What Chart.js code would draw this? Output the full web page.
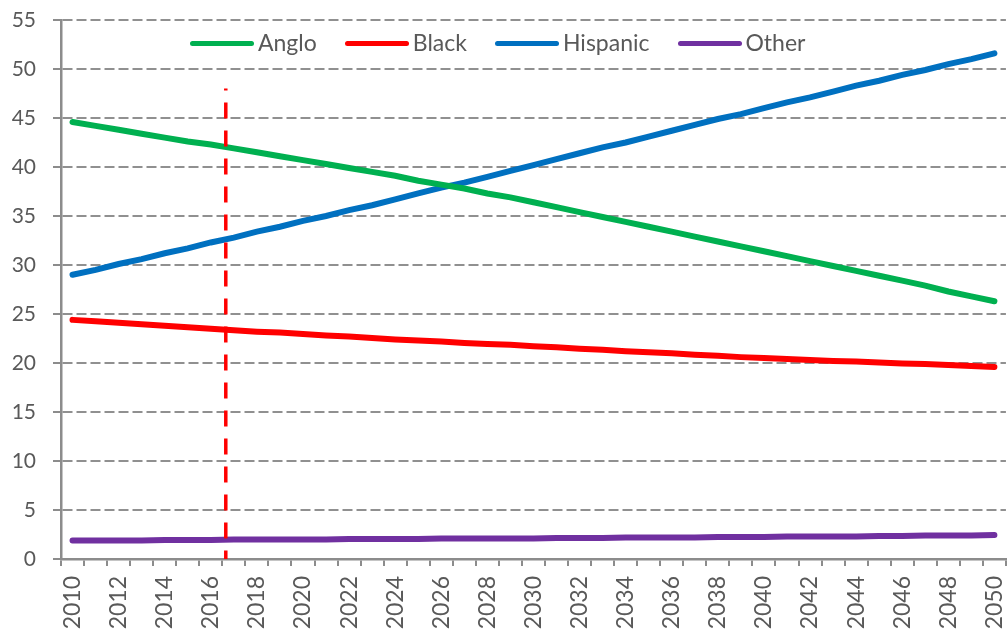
<!DOCTYPE html>
<html lang="en">
<head>
  <meta charset="UTF-8" />
  <title>Population share projection</title>
  <script src="https://cdn.jsdelivr.net/npm/chart.js"></script>
  <style>
    body { margin: 0; background: #fff; overflow: hidden; }
    #wrap { position: relative; width: 1008px; height: 639px; overflow: hidden; }
    #legend {
      position: absolute; top: 28px; left: 190px;
      display: flex; align-items: center;
      font-family: Lato, "Open Sans", sans-serif; font-size: 23px; color: #595959;
    }
    #legend .item { display: flex; align-items: center; margin-right: 28px; }
    #legend .swatch { width: 64px; height: 5px; border-radius: 3px; margin-right: 4px; margin-top: 2px; }
  </style>
</head>
<body>
<div id="wrap">
  <canvas id="chart" width="1032" height="639"></canvas>
  <div id="legend"></div>
</div>

<script>
  const years = [];
  for (let y = 2010; y <= 2050; y++) years.push(String(y));

  const anglo = [44.6, 44.2, 43.8, 43.4, 43.0, 42.6, 42.3, 41.9, 41.5, 41.1,
                 40.7, 40.3, 39.9, 39.5, 39.1, 38.6, 38.2, 37.8, 37.3, 36.9,
                 36.4, 35.9, 35.4, 34.9, 34.4, 33.9, 33.4, 32.9, 32.4, 31.9,
                 31.4, 30.9, 30.4, 29.9, 29.4, 28.9, 28.4, 27.9, 27.3, 26.8, 26.3];
  const black = [24.4, 24.25, 24.1, 23.95, 23.8, 23.65, 23.5, 23.35, 23.2, 23.1,
                 22.95, 22.8, 22.7, 22.55, 22.4, 22.3, 22.2, 22.05, 21.95, 21.85,
                 21.7, 21.6, 21.45, 21.35, 21.2, 21.1, 21.0, 20.85, 20.75, 20.6,
                 20.5, 20.4, 20.3, 20.2, 20.15, 20.05, 19.95, 19.9, 19.8, 19.7, 19.6];
  const hispanic = [29.0, 29.5, 30.1, 30.6, 31.2, 31.7, 32.3, 32.8, 33.4, 33.9,
                    34.5, 35.0, 35.6, 36.1, 36.7, 37.3, 37.9, 38.4, 39.0, 39.6,
                    40.2, 40.8, 41.4, 42.0, 42.5, 43.1, 43.7, 44.3, 44.9, 45.4,
                    46.0, 46.6, 47.1, 47.7, 48.3, 48.8, 49.4, 49.9, 50.5, 51.0, 51.6];
  const other = [1.9, 1.9, 1.9, 1.9, 1.95, 1.95, 1.95, 2.0, 2.0, 2.0,
                 2.0, 2.0, 2.05, 2.05, 2.05, 2.05, 2.1, 2.1, 2.1, 2.1,
                 2.1, 2.15, 2.15, 2.15, 2.2, 2.2, 2.2, 2.2, 2.25, 2.25,
                 2.25, 2.3, 2.3, 2.3, 2.3, 2.35, 2.35, 2.4, 2.4, 2.4, 2.45];

  const seriesNames = ['Anglo', 'Black', 'Hispanic', 'Other'];
  const seriesColors = ['#00b050', '#ff0000', '#0070c0', '#7030a0'];

  // vertical "today" marker
  const markerYear = 2016.65;
  const markerTop = 48;

  const axisGray = '#8c8c8c';
  const textGray = '#595959';

  const markerLine = {
    id: 'markerLine',
    afterDatasetsDraw(chart) {
      const { ctx, scales: { x, y } } = chart;
      const px = x.getPixelForValue(markerYear - Number(years[0]));
      ctx.save();
      ctx.strokeStyle = '#ff0000';
      ctx.lineWidth = 3.5;
      ctx.setLineDash([16, 12]);
      ctx.lineDashOffset = 14;
      ctx.beginPath();
      ctx.moveTo(px, y.getPixelForValue(markerTop));
      ctx.lineTo(px, y.getPixelForValue(0));
      ctx.stroke();
      ctx.restore();
    }
  };

  const allData = [anglo, black, hispanic, other];
  const datasets = seriesNames.map((name, i) => ({
    label: name,
    data: allData[i],
    borderColor: seriesColors[i],
    backgroundColor: seriesColors[i],
    borderWidth: 6,
    borderCapStyle: 'round',
    pointRadius: 0,
    tension: 0,
    fill: false
  }));

  new Chart(document.getElementById('chart'), {
    type: 'line',
    data: { labels: years, datasets: datasets },
    plugins: [markerLine],
    options: {
      responsive: false,
      devicePixelRatio: 1,
      animation: false,
      layout: { padding: { top: 20, right: 0, left: 0, bottom: 0 } },
      plugins: {
        legend: { display: false },
        tooltip: { enabled: false }
      },
      scales: {
        x: {
          offset: true,
          afterFit: s => { s.height = 80; s.paddingTop = 0; },
          grid: {
            offset: true,
            drawOnChartArea: false,
            drawTicks: true,
            tickLength: 7,
            color: axisGray,
            lineWidth: 2
          },
          border: { display: true, color: axisGray, width: 2.5 },
          ticks: {
            autoSkip: false,
            maxRotation: 90,
            minRotation: 90,
            padding: 10,
            color: textGray,
            font: { family: 'Lato', size: 23 },
            callback: (v, i) => (i % 2 === 0 ? years[i] : '')
          }
        },
        y: {
          min: 0,
          max: 55,
          afterFit: s => { s.width = 61; s.paddingTop = 0; },
          grid: {
            color: '#909090',
            lineWidth: 2,
            tickLength: 8,
            tickColor: axisGray,
            tickWidth: 2,
            tickBorderDash: []
          },
          border: { display: true, color: axisGray, width: 2.5, dash: [10, 4] },
          ticks: {
            stepSize: 5,
            padding: 17,
            color: textGray,
            font: { family: 'Lato', size: 21 }
          }
        }
      }
    }
  });

  // legend drawn as HTML text on top of the plot
  const legend = document.getElementById('legend');
  seriesNames.forEach((name, i) => {
    const item = document.createElement('div');
    item.className = 'item';
    item.innerHTML = `<span class="swatch" style="background:${seriesColors[i]}"></span><span>${name}</span>`;
    legend.appendChild(item);
  });
</script>

</body>
</html>
